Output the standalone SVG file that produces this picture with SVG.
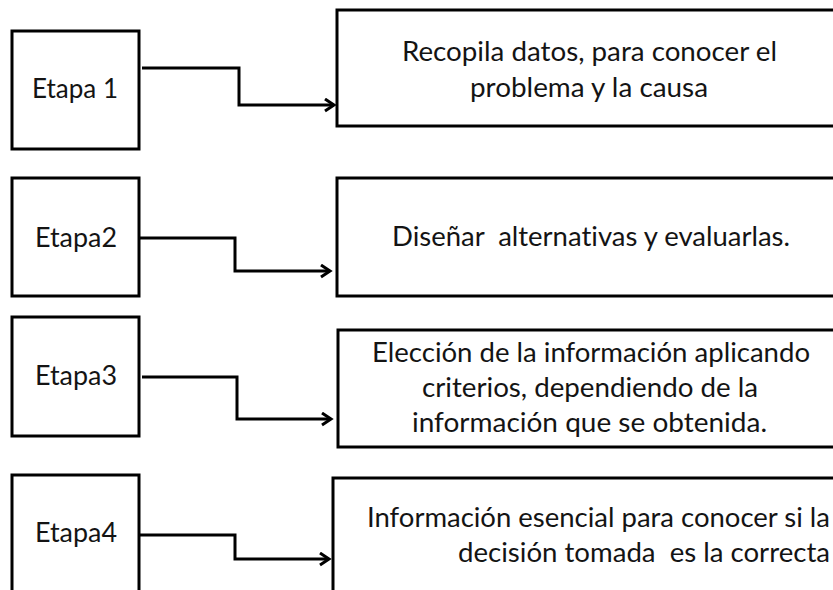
<svg xmlns="http://www.w3.org/2000/svg" width="833" height="590" viewBox="0 0 833 590">
<style>
.box{fill:#fff;stroke:#000;stroke-width:3}
.lbl{font-family:Lato,"Liberation Sans",sans-serif;font-size:26px;fill:#141414;text-anchor:middle;font-variant-ligatures:none}
.con{fill:none;stroke:#000;stroke-width:3}
</style>
<defs>
<marker id="arr" markerUnits="userSpaceOnUse" markerWidth="14" markerHeight="16" refX="11" refY="7" orient="auto">
<path d="M2,1 L11,7 L2,13" fill="none" stroke="#000" stroke-width="3"/>
</marker>
</defs>
<rect width="833" height="590" fill="#fff"/>
<g id="etapa1"><rect class="box" x="12" y="31" width="127" height="118"/><text class="lbl" x="75" y="98" textLength="86" lengthAdjust="spacingAndGlyphs">Etapa 1</text></g>
<g id="etapa2"><rect class="box" x="12" y="178" width="127" height="118"/><text class="lbl" x="76" y="247" textLength="82" lengthAdjust="spacingAndGlyphs">Etapa2</text></g>
<g id="etapa3"><rect class="box" x="12" y="317" width="127" height="119"/><text class="lbl" x="76" y="385" textLength="82" lengthAdjust="spacingAndGlyphs">Etapa3</text></g>
<g id="etapa4"><rect class="box" x="12" y="475" width="127" height="130"/><text class="lbl" x="76" y="542" textLength="82" lengthAdjust="spacingAndGlyphs">Etapa4</text></g>
<g id="desc1"><rect class="box" x="337" y="10" width="510" height="116"/>
<text class="lbl" x="589.5" y="61" textLength="375" lengthAdjust="spacingAndGlyphs">Recopila datos, para conocer el</text>
<text class="lbl" x="589" y="97" textLength="238" lengthAdjust="spacingAndGlyphs">problema y la causa</text></g>
<g id="desc2"><rect class="box" x="337" y="178" width="510" height="118"/>
<text class="lbl" x="591" y="246" textLength="398" lengthAdjust="spacingAndGlyphs" xml:space="preserve">Diseñar  alternativas y evaluarlas.</text></g>
<g id="desc3"><rect class="box" x="338" y="330" width="510" height="117"/>
<text class="lbl" x="591" y="362" textLength="438" lengthAdjust="spacingAndGlyphs">Elección de la información aplicando</text>
<text class="lbl" x="590" y="397" textLength="336" lengthAdjust="spacingAndGlyphs">criterios, dependiendo de la</text>
<text class="lbl" x="589.5" y="432" textLength="355" lengthAdjust="spacingAndGlyphs">información que se obtenida.</text></g>
<g id="desc4"><rect class="box" x="333" y="478" width="515" height="130"/>
<text class="lbl" x="598.5" y="527" textLength="463" lengthAdjust="spacingAndGlyphs">Información esencial para conocer si la</text>
<text class="lbl" x="644" y="562" textLength="372" lengthAdjust="spacingAndGlyphs" xml:space="preserve">decisión tomada  es la correcta</text></g>
<g id="connectors">
<polyline class="con" points="142,68 239,68 239,105 334,105" marker-end="url(#arr)"/>
<polyline class="con" points="140,238 235,238 235,271 330,271" marker-end="url(#arr)"/>
<polyline class="con" points="142,377 237,377 237,419 331,419" marker-end="url(#arr)"/>
<polyline class="con" points="140,535 235,535 235,559 329,559" marker-end="url(#arr)"/>
</g>
</svg>
